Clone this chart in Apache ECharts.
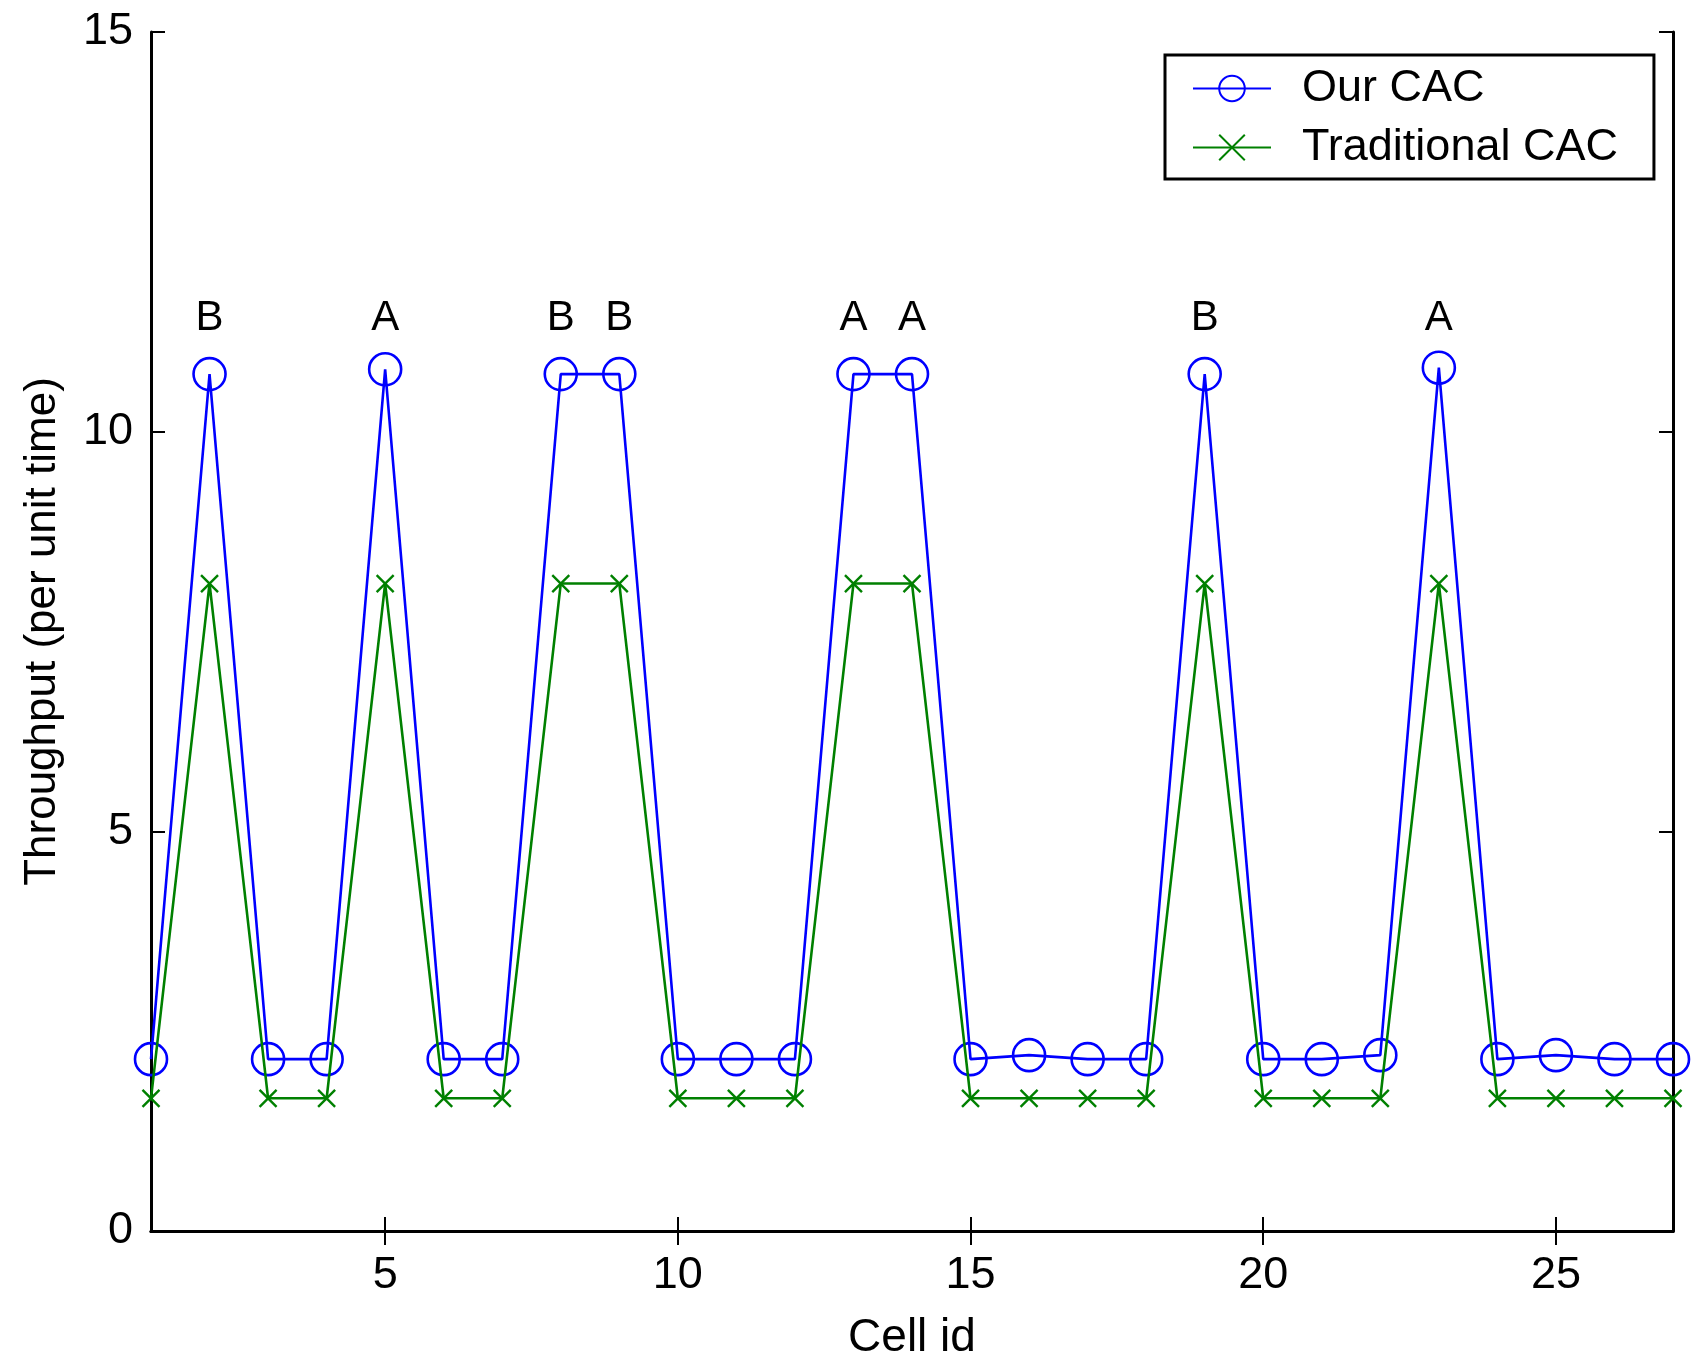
<!DOCTYPE html>
<html>
<head>
<meta charset="utf-8">
<script src="https://cdn.jsdelivr.net/npm/echarts@6/dist/echarts.min.js"></script>
<style>html,body{margin:0;padding:0;background:#fff;overflow:hidden;}#c{width:1692px;height:1355px;}</style>
</head>
<body>
<div id="c"></div>
<script>
const cellIds = [1,2,3,4,5,6,7,8,9,10,11,12,13,14,15,16,17,18,19,20,21,22,23,24,25,26,27];
const ourCAC = [2.15,10.72,2.15,2.15,10.78,2.15,2.15,10.72,10.72,2.15,2.15,2.15,10.72,10.72,2.15,2.2,2.15,2.15,10.72,2.15,2.15,2.2,10.8,2.15,2.2,2.15,2.15];
const traditionalCAC = [1.66,8.1,1.66,1.66,8.1,1.66,1.66,8.1,8.1,1.66,1.66,1.66,8.1,8.1,1.66,1.66,1.66,1.66,8.1,1.66,1.66,1.66,8.1,1.66,1.66,1.66,1.66];
const peakCells = [2,5,8,9,13,14,19,23];
const peakLabels = ['B','A','B','B','A','A','B','A'];
const peakLabelLevel = 11.42;
const xTicks = [5,10,15,20,25];
const yTicks = [0,5,10,15];
const seriesNames = ['Our CAC','Traditional CAC'];

const FONT = 'Liberation Sans, Arial, sans-serif';
const chart = echarts.init(document.getElementById('c'), null, {renderer:'canvas'});

const axisLineStyle = {show:true, lineStyle:{color:'#000', width:3}};
const tickStyle = {show:true, inside:true, length:14, lineStyle:{color:'#000', width:2}};

chart.setOption({
  animation:false,
  backgroundColor:'#fff',
  grid:{left:151, right:19, top:32, bottom:124, containLabel:false, outerBoundsMode:'none'},
  legend:{
    left:1165, top:55,
    orient:'vertical',
    backgroundColor:'#fff',
    borderColor:'#000', borderWidth:3, borderRadius:0,
    padding:[11,36,9,27],
    itemWidth:78, itemHeight:32, itemGap:14,
    textStyle:{fontFamily:FONT, fontSize:45, color:'#000', padding:[0,0,0,26]},
    data:seriesNames
  },
  xAxis:[{
    type:'value', min:1, max:27, position:'bottom',
    name:'Cell id', nameLocation:'middle', nameGap:84,
    nameTextStyle:{fontFamily:FONT, fontSize:46, color:'#000'},
    axisLine:axisLineStyle,
    axisTick:Object.assign({customValues:xTicks}, tickStyle),
    axisLabel:{customValues:xTicks, fontFamily:FONT, fontSize:45, color:'#000', margin:22},
    splitLine:{show:false}
  },{
    type:'value', min:1, max:27, position:'top',
    axisLine:axisLineStyle,
    axisTick:Object.assign({customValues:xTicks}, tickStyle),
    axisLabel:{show:false},
    splitLine:{show:false}
  }],
  yAxis:[{
    type:'value', min:0, max:15, interval:5, position:'left',
    name:'Throughput (per unit time)', nameLocation:'middle', nameGap:86,
    nameTextStyle:{fontFamily:FONT, fontSize:44, color:'#000'},
    axisLine:axisLineStyle,
    axisTick:Object.assign({customValues:yTicks}, tickStyle),
    axisLabel:{customValues:yTicks, fontFamily:FONT, fontSize:45, color:'#000', margin:18},
    splitLine:{show:false}
  },{
    type:'value', min:0, max:15, interval:5, position:'right',
    axisLine:axisLineStyle,
    axisTick:Object.assign({customValues:yTicks}, tickStyle),
    axisLabel:{show:false},
    splitLine:{show:false}
  }],
  series:[{
    name:seriesNames[0], type:'line',
    data:cellIds.map((x,i)=>[x, ourCAC[i]]),
    symbol:'circle', symbolSize:32,
    showAllSymbol:true,
    lineStyle:{color:'#0000ff', width:2.6},
    itemStyle:{color:'rgba(0,0,0,0)', borderColor:'#0000ff', borderWidth:2.6},
    emphasis:{disabled:true},
    z:2
  },{
    name:seriesNames[1], type:'line',
    data:cellIds.map((x,i)=>[x, traditionalCAC[i]]),
    symbol:'path://M0,0L10,10M0,10L10,0', symbolSize:17,
    showAllSymbol:true,
    lineStyle:{color:'#008000', width:2.6},
    itemStyle:{color:'#008000', borderColor:'#008000', borderWidth:2.4},
    emphasis:{disabled:true},
    z:3
  },{
    name:'peak labels', type:'scatter',
    data:peakCells.map((x,i)=>({value:[x, peakLabelLevel], label:{formatter:peakLabels[i]}})),
    symbolSize:1,
    label:{show:true, position:'inside', fontFamily:FONT, fontSize:42, color:'#000', textBorderWidth:0, opacity:1},
    itemStyle:{color:'rgba(0,0,0,0)', opacity:1},
    emphasis:{disabled:true},
    silent:true,
    z:4
  }]
});
</script>
</body>
</html>
